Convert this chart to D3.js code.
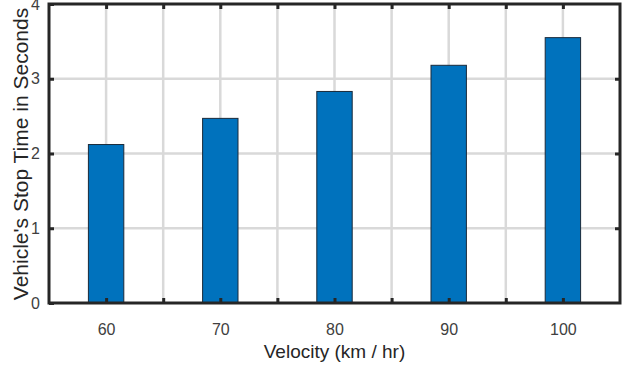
<!DOCTYPE html>
<html>
<head>
<meta charset="utf-8">
<script src="https://cdn.jsdelivr.net/npm/d3@7"></script>
<style>
  body { margin: 0; background: #fff; }
  svg { display: block; font-family: "Liberation Sans", Arial, sans-serif; }
</style>
</head>
<body>
<svg id="chart"></svg>
<script>
// data
const velocities = [60, 70, 80, 90, 100];
const stopTimes = [2.12, 2.47, 2.83, 3.18, 3.55];
const yTicks = [0, 1, 2, 3, 4];
const xTicks = [55, 60, 65, 70, 75, 80, 85, 90, 95, 100, 105];

const width = 624;
const height = 368;
const marginTop = 4;
const marginRight = 4;
const marginBottom = 65;
const marginLeft = 49;

const svg = d3.select('#chart')
  .attr('width', width)
  .attr('height', height)
  .attr('viewBox', [0, 0, width, height]);

const x = d3.scaleLinear()
  .domain([55, 105])
  .range([marginLeft, width - marginRight]);

const y = d3.scaleLinear()
  .domain([0, 4])
  .range([height - marginBottom, marginTop]);

const ink = '#262626';

// grid
svg.append('g')
  .selectAll('line')
  .data(xTicks.slice(1, -1))
  .join('line')
  .attr('x1', d => x(d)).attr('x2', d => x(d))
  .attr('y1', y(0)).attr('y2', y(4))
  .attr('stroke', '#d9d9d9')
  .attr('stroke-width', 2.5);

svg.append('g')
  .selectAll('line')
  .data(yTicks.slice(1, -1))
  .join('line')
  .attr('x1', x(55)).attr('x2', x(105))
  .attr('y1', d => y(d)).attr('y2', d => y(d))
  .attr('stroke', '#d9d9d9')
  .attr('stroke-width', 2.5);

// bars
const barW = x(58.1) - x(55);
svg.append('g')
  .selectAll('rect')
  .data(velocities)
  .join('rect')
  .attr('x', d => x(d) - barW / 2)
  .attr('width', barW)
  .attr('y', (d, i) => y(stopTimes[i]))
  .attr('height', (d, i) => y(0) - y(stopTimes[i]))
  .attr('fill', '#0072BD')
  .attr('stroke', '#1a2a3a')
  .attr('stroke-width', 1);

// axes with inward ticks
const tickFmt = d => (d % 10 === 0 ? d : '');
const xInner = xTicks.slice(1, -1);

svg.append('g')
  .attr('transform', `translate(0,${y(0)})`)
  .call(d3.axisBottom(x).tickValues(xInner).tickSizeInner(-5).tickSizeOuter(0).tickPadding(21).tickFormat(tickFmt))
  .call(g => g.select('.domain').remove());

svg.append('g')
  .attr('transform', `translate(0,${y(4)})`)
  .call(d3.axisTop(x).tickValues(xInner).tickSizeInner(-5).tickSizeOuter(0).tickFormat(''))
  .call(g => g.select('.domain').remove());

svg.append('g')
  .attr('transform', `translate(${x(55)},0)`)
  .call(d3.axisLeft(y).tickValues(yTicks).tickSizeInner(-5).tickSizeOuter(0).tickPadding(9).tickFormat(d3.format('d')))
  .call(g => g.select('.domain').remove());

svg.append('g')
  .attr('transform', `translate(${x(105)},0)`)
  .call(d3.axisRight(y).tickValues(yTicks.slice(1, -1)).tickSizeInner(-5).tickSizeOuter(0).tickFormat(''))
  .call(g => g.select('.domain').remove());

svg.selectAll('.tick line').attr('stroke', ink).attr('stroke-width', 3);
svg.selectAll('.tick text').attr('fill', '#404040').attr('font-size', 16)
  .attr('font-family', '"Liberation Sans", Arial, sans-serif');

// frame
svg.append('rect')
  .attr('x', x(55)).attr('y', y(4))
  .attr('width', x(105) - x(55)).attr('height', y(0) - y(4))
  .attr('fill', 'none')
  .attr('stroke', ink)
  .attr('stroke-width', 3);

// axis labels
svg.append('text')
  .attr('x', (x(55) + x(105)) / 2)
  .attr('y', 358)
  .attr('text-anchor', 'middle')
  .attr('font-size', 19)
  .attr('fill', ink)
  .text('Velocity (km / hr)');

svg.append('text')
  .attr('transform', `translate(28,154) rotate(-90)`)
  .attr('text-anchor', 'middle')
  .attr('font-size', 21)
  .attr('fill', ink)
  .text("Vehicle's Stop Time in Seconds");
</script>
</body>
</html>
